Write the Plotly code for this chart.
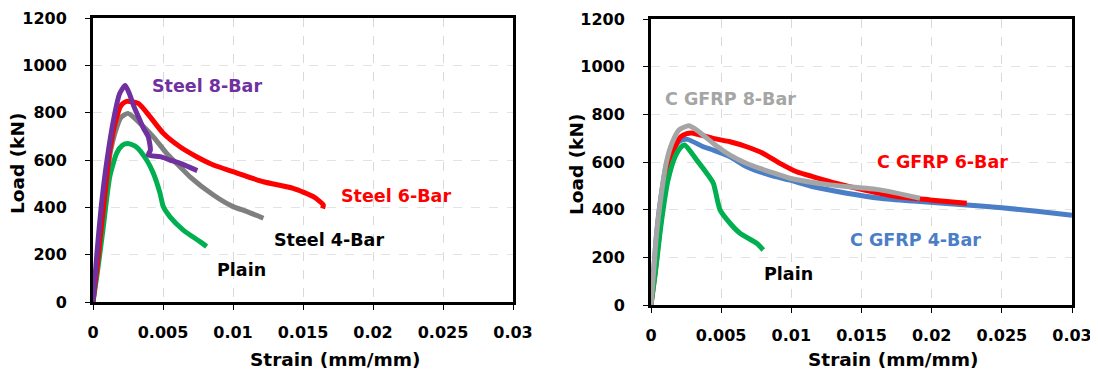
import plotly.graph_objects as go

# ---------------- Left panel: steel-reinforced specimens ----------------
steel8_strain = [0, 0.0003, 0.0006, 0.0010, 0.0015, 0.0019, 0.0023, 0.0026, 0.0029, 0.0033,
                 0.0036, 0.00395, 0.0041, 0.00395, 0.0048, 0.0055, 0.0062, 0.0068, 0.00745]
steel8_load = [0, 220, 410, 600, 780, 880, 915, 880, 830, 775,
               735, 698, 642, 621, 614, 600, 587, 572, 555]

steel6_strain = [0, 0.0003, 0.0006, 0.0009, 0.0012, 0.0016, 0.0020, 0.0024, 0.00324, 0.00407,
                 0.00502, 0.00621, 0.0074, 0.0086, 0.0100, 0.01217, 0.0143, 0.01574, 0.01645, 0.0164]
steel6_load = [0, 150, 320, 480, 640, 760, 830, 848, 839, 783,
               713, 656, 614, 579, 551, 508, 480, 445, 410, 395]

steel4_strain = [0, 0.0003, 0.0006, 0.0009, 0.0012, 0.0016, 0.0020, 0.0025, 0.00336, 0.00431,
                 0.00526, 0.00621, 0.00693, 0.0086, 0.0100, 0.0110, 0.01217]
steel4_load = [0, 150, 320, 480, 620, 720, 780, 797, 755, 698,
               628, 572, 529, 452, 403, 382, 354]

plainL_strain = [0, 0.0003, 0.0007, 0.0012, 0.0017, 0.0021, 0.0025, 0.0031, 0.00383, 0.00431,
                 0.00479, 0.00502, 0.0055, 0.00645, 0.00764, 0.00812]
plainL_load = [0, 120, 300, 530, 630, 662, 670, 655, 600, 544,
               459, 403, 360, 304, 255, 234]

# ---------------- Right panel: C-GFRP-reinforced specimens ----------------
gfrp8_strain = [0, 0.0002, 0.0004, 0.0007, 0.0011, 0.0015, 0.0020, 0.0027, 0.00326, 0.00444,
                0.00563, 0.00682, 0.00848, 0.0099, 0.01276, 0.01632, 0.01917]
gfrp8_load = [0, 150, 300, 450, 600, 680, 735, 752, 734, 678,
              629, 594, 559, 532, 504, 483, 448]

gfrp6_strain = [0, 0.0003, 0.0006, 0.0009, 0.0013, 0.0017, 0.0021, 0.0025, 0.0029, 0.00444,
                0.00563, 0.00682, 0.0080, 0.00919, 0.01038, 0.01157, 0.01323, 0.01513, 0.0175,
                0.01988, 0.0225]
gfrp6_load = [0, 140, 300, 440, 580, 660, 705, 718, 722, 699,
              685, 664, 636, 594, 559, 538, 510, 483, 455,
              441, 427]

gfrp4_strain = [0, 0.0002, 0.0004, 0.0007, 0.0011, 0.0016, 0.0021, 0.0026, 0.00373, 0.00444,
                0.00563, 0.00682, 0.00848, 0.0099, 0.01157, 0.01395, 0.01632, 0.01869, 0.0220,
                0.0250, 0.0275, 0.0300]
gfrp4_load = [0, 150, 300, 450, 590, 660, 690, 695, 664, 650,
              622, 580, 545, 524, 496, 469, 448, 436, 422,
              408, 393, 377]

plainR_strain = [0, 0.0003, 0.0007, 0.0012, 0.0017, 0.0021, 0.0024, 0.00326, 0.00397, 0.00444,
                 0.00492, 0.00563, 0.00634, 0.00753, 0.0080]
plainR_load = [0, 130, 330, 520, 620, 660, 671, 608, 553, 511,
               399, 343, 301, 259, 231]

x_ticks = [0, 0.005, 0.01, 0.015, 0.02, 0.025, 0.03]
x_tick_labels = ["0", "0.005", "0.01", "0.015", "0.02", "0.025", "0.03"]
y_ticks = [0, 200, 400, 600, 800, 1000, 1200]
x_title = "Strain (mm/mm)"
y_title = "Load (kN)"

FONT = "DejaVu Sans"
# the page body has an 8px margin, so the figure is placed at (8, 8) in the window
OFF = 8
W, H = 1098 - OFF, 373 - OFF


def px(p):
    return (p - OFF) / W


def py(p):
    return 1 - (p - OFF) / H


fig = go.Figure()


def add(x, y, color, xa, ya):
    fig.add_trace(go.Scatter(x=x, y=y, mode="lines", xaxis=xa, yaxis=ya,
                             line=dict(color=color, width=5, shape="spline", smoothing=0.6),
                             showlegend=False, hoverinfo="skip"))


# left panel (draw order: gray, green, red, purple)
add(steel4_strain, steel4_load, "#7F7F7F", "x", "y")
add(plainL_strain, plainL_load, "#00B050", "x", "y")
add(steel6_strain, steel6_load, "#FF0000", "x", "y")
add(steel8_strain, steel8_load, "#7030A0", "x", "y")

# right panel (draw order: blue, red, green, gray)
add(gfrp4_strain, gfrp4_load, "#4A7EC7", "x2", "y2")
add(gfrp6_strain, gfrp6_load, "#FF0000", "x2", "y2")
add(plainR_strain, plainR_load, "#00B050", "x2", "y2")
add(gfrp8_strain, gfrp8_load, "#A5A5A5", "x2", "y2")

tickfont = dict(family=FONT, size=16, color="black", weight="bold")
titlefont = dict(family=FONT, size=18.5, color="black", weight="bold")


def xaxis(domain, anchor):
    return dict(domain=domain, anchor=anchor, range=[0, 0.03], tickvals=x_ticks,
                ticktext=x_tick_labels, ticks="outside", ticklen=5, tickwidth=1,
                tickcolor="black", showline=True, linecolor="black", linewidth=3,
                mirror=True, showgrid=True, gridcolor="#D9D9D9", griddash="dash",
                gridwidth=1, zeroline=False, tickfont=tickfont, ticklabelstandoff=9,
                automargin=False)


def yaxis(domain, anchor):
    return dict(domain=domain, anchor=anchor, range=[0, 1200], tickvals=y_ticks,
                ticks="outside", ticklen=5, tickwidth=1, tickcolor="black",
                showline=True, linecolor="black", linewidth=3, mirror=True,
                showgrid=True, gridcolor="#E3E3E3", griddash="dash", gridwidth=1,
                zeroline=False, tickfont=tickfont, ticklabelstandoff=15,
                automargin=False)


fig.update_layout(
    width=W, height=H,
    margin=dict(l=0, r=0, t=0, b=0, autoexpand=False),
    paper_bgcolor="white", plot_bgcolor="white",
    xaxis=xaxis([px(93), px(513)], "y"),
    yaxis=yaxis([py(302), py(18)], "x"),
    xaxis2=xaxis([px(651), px(1072)], "y2"),
    yaxis2=yaxis([py(305), py(19)], "x2"),
)

# axis titles (placed like the spreadsheet chart: x-title centred on chart area)
for tx, ty in [(335, 359), (893, 359)]:
    fig.add_annotation(x=px(tx), y=py(ty), xref="paper", yref="paper", text=x_title,
                       showarrow=False, font=titlefont, xanchor="center", yanchor="middle")
for tx, ty in [(17, 164), (576, 165)]:
    fig.add_annotation(x=px(tx), y=py(ty), xref="paper", yref="paper", text=y_title,
                       textangle=-90, showarrow=False, font=titlefont,
                       xanchor="center", yanchor="middle")

labels = [
    ("Steel 8-Bar", 0.00814, 913, "#7030A0", "x", "y"),
    ("Steel 6-Bar", 0.02164, 448, "#FF0000", "x", "y"),
    ("Steel 4-Bar", 0.01686, 262, "#000000", "x", "y"),
    ("Plain", 0.01064, 135, "#000000", "x", "y"),
    ("C GFRP 8-Bar", 0.00563, 864, "#A5A5A5", "x2", "y2"),
    ("C GFRP 6-Bar", 0.02077, 600, "#FF0000", "x2", "y2"),
    ("C GFRP 4-Bar", 0.01888, 273, "#4A7EC7", "x2", "y2"),
    ("Plain", 0.00983, 130, "#000000", "x2", "y2"),
]
for text, lx, ly, col, xr, yr in labels:
    fig.add_annotation(x=lx, y=ly, xref=xr, yref=yr, text=text, showarrow=False,
                       font=dict(family=FONT, size=17.5, color=col, weight="bold"),
                       xanchor="center", yanchor="middle")

fig.write_html("out.html")
